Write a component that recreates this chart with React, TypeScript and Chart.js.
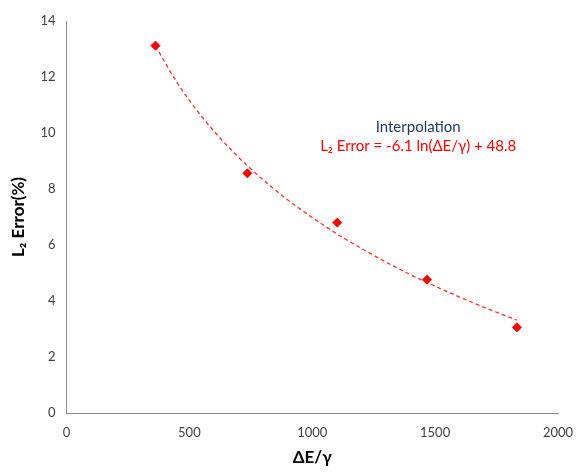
import React, { useEffect, useRef } from "react";
import { Chart, registerables } from "chart.js";

Chart.register(...registerables);

const xValues = [362, 736, 1102, 1467, 1833];
const yValues = [13.12, 8.56, 6.8, 4.76, 3.06];
const trendX = [362, 450, 550, 650, 735, 850, 950, 1102, 1250, 1350, 1467, 1600, 1700, 1832];
const trendY = [13.11, 11.8, 10.59, 9.58, 8.84, 7.96, 7.29, 6.39, 5.63, 5.16, 4.66, 4.14, 3.77, 3.32];
const xTicks = [0, 500, 1000, 1500, 2000];
const yTicks = [0, 2, 4, 6, 8, 10, 12, 14];
const annotationTitle = "Interpolation";
const annotationEq = "L\u2082 Error = -6.1 ln(\u0394E/\u03b3) + 48.8";

const FONT = "Lato, 'Open Sans', sans-serif";

const annotationPlugin = {
  id: "annot",
  afterDraw(chart: any) {
    const ctx = chart.ctx;
    const xs = chart.scales.x;
    const ys = chart.scales.y;
    const cx = xs.getPixelForValue(1431);
    ctx.save();
    ctx.textAlign = "center";
    ctx.textBaseline = "middle";
    ctx.font = `15px ${FONT}`;
    ctx.fillStyle = "#1F3864";
    ctx.fillText(annotationTitle, cx, ys.getPixelForValue(10.2));
    ctx.fillStyle = "#FF0000";
    ctx.fillText(annotationEq, cx, ys.getPixelForValue(9.52));
    ctx.restore();
  },
};

export default function App() {
  const ref = useRef<HTMLCanvasElement | null>(null);
  useEffect(() => {
    if (!ref.current) return;
    const chart = new Chart(ref.current, {
      type: "scatter",
      data: {
        datasets: [
          {
            label: "data",
            data: xValues.map((x, i) => ({ x, y: yValues[i] })),
            pointStyle: "rectRot",
            pointRadius: 4.5,
            backgroundColor: "#FF0000",
            borderColor: "#FF0000",
            showLine: false,
            order: 1,
          },
          {
            label: "trend",
            data: trendX.map((x, i) => ({ x, y: trendY[i] })),
            showLine: true,
            pointRadius: 0,
            borderColor: "#FF3030",
            borderWidth: 1.3,
            borderDash: [4, 3],
            cubicInterpolationMode: "monotone",
            order: 2,
          },
        ],
      },
      options: {
        animation: false,
        responsive: false,
        layout: { padding: { top: 21, right: 18, left: 8, bottom: 6 } },
        plugins: { legend: { display: false }, tooltip: { enabled: false } },
        scales: {
          x: {
            type: "linear",
            min: 0,
            max: 2000,
            afterBuildTicks: (axis: any) => {
              axis.ticks = xTicks.map((v) => ({ value: v }));
            },
            afterFit: (scale: any) => {
              scale.paddingRight = 0;
            },
            grid: { display: false, drawTicks: true, tickLength: 5, color: "#898989" },
            border: { color: "#898989", width: 1 },
            ticks: {
              color: "#404040",
              font: { size: 13, family: FONT },
              padding: 7,
              maxRotation: 0,
              callback: (v: any) => String(v),
            },
            title: {
              display: true,
              text: "\u0394E/\u03b3",
              color: "#000000",
              font: { size: 17, weight: "bold", family: FONT },
              padding: { top: 0, bottom: 0 },
            },
          },
          y: {
            type: "linear",
            min: 0,
            max: 14,
            afterBuildTicks: (axis: any) => {
              axis.ticks = yTicks.map((v) => ({ value: v }));
            },
            grid: { display: false, drawTicks: true, tickLength: 5, color: "#898989" },
            border: { color: "#898989", width: 1 },
            ticks: {
              color: "#404040",
              font: { size: 13, family: FONT },
              padding: 6,
              callback: (v: any) => String(v),
            },
            title: {
              display: true,
              text: "L\u2082 Error(%)",
              color: "#000000",
              font: { size: 17, weight: "bold", family: FONT },
              padding: { top: 0, bottom: 6 },
            },
          },
        },
      },
      plugins: [annotationPlugin],
    });
    return () => chart.destroy();
  }, []);
  return (
    <div style={{ position: "fixed", left: 0, top: 0, width: 576, height: 474, background: "#fff" }}>
      <canvas ref={ref} width={576} height={474} style={{ display: "block" }} />
    </div>
  );
}
